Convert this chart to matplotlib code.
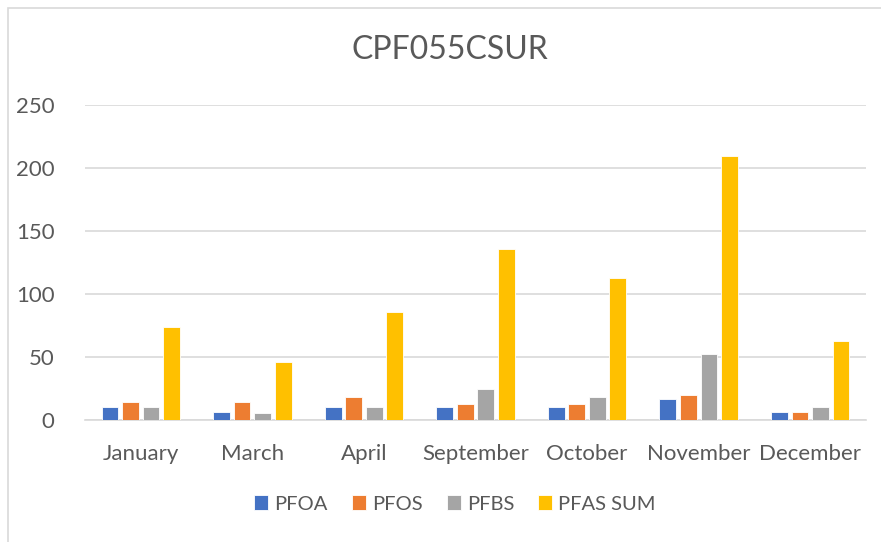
import matplotlib.pyplot as plt
import matplotlib.patches as mpatches
import numpy as np

months = ["January", "March", "April", "September", "October", "November", "December"]
series_names = ["PFOA", "PFOS", "PFBS", "PFAS SUM"]
pfoa = [10.5, 6.5, 10.5, 10.5, 10.5, 17, 6.5]
pfos = [14, 14, 18, 13, 13, 19.5, 6.5]
pfbs = [10.5, 5.5, 10.5, 24.5, 18.5, 52.5, 10.5]
pfas_sum = [74, 46, 85.5, 136, 113, 209.5, 62.5]
colors = ["#4472C4", "#ED7D31", "#A5A5A5", "#FFC000"]

plt.rcParams['font.family'] = ['Lato', 'DejaVu Sans']
text_col = "#595959"

fig = plt.figure(figsize=(8.81, 5.42), dpi=100)
ax = fig.add_axes([85 / 881, 1 - 420 / 542, 781 / 881, 315 / 542])

# light chart border like the excel frame
fig.patches.append(mpatches.Rectangle((8 / 881, -0.1), 1.2, 1 - 8 / 542 + 0.1,
                                      transform=fig.transFigure, fill=False,
                                      edgecolor="#D9D9D9", linewidth=1.2))

x = np.arange(len(months))
step = 0.184
width = 0.15
for i, (vals, name) in enumerate(zip([pfoa, pfos, pfbs, pfas_sum], series_names)):
    ax.bar(x + (i - 1.5) * step, vals, width, color=colors[i], label=name,
           edgecolor="white", linewidth=0.6, zorder=3)

ax.set_xlim(-0.5, len(months) - 0.5)
ax.set_ylim(0, 250)
ax.set_yticks(range(0, 251, 50))
ax.set_xticks(x)
ax.set_xticklabels(months)
ax.yaxis.grid(True, color="#D9D9D9", linewidth=1.2, zorder=0)
ax.set_axisbelow(True)
for s in ["top", "right", "left"]:
    ax.spines[s].set_visible(False)
ax.spines["bottom"].set_color("#D9D9D9")
ax.spines["bottom"].set_linewidth(1.2)
ax.tick_params(axis="both", length=0, colors=text_col, labelsize=16)
ax.tick_params(axis="x", pad=17)
ax.tick_params(axis="y", pad=22)

fig.text(450 / 881, 1 - 50 / 542, "CPF055CSUR", ha="center", va="center",
         fontsize=23, color=text_col)

leg = fig.legend(loc="center", bbox_to_anchor=(455 / 881, 1 - 504 / 542), ncol=4,
                 frameon=False, fontsize=14.5, handlelength=0.7, handleheight=0.7,
                 handletextpad=0.3, columnspacing=1.2, labelcolor=text_col)

fig.savefig("out.png", dpi=100)
